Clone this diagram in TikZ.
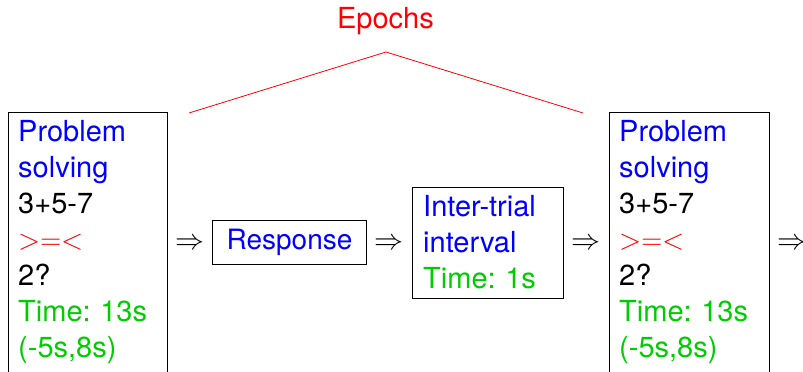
\RequirePackage{fix-cm}
\documentclass[tikz,border=0pt]{standalone}
\usepackage{fontspec}
\setmainfont{TeX Gyre Heros}
\definecolor{grn}{RGB}{0,205,0}
\frenchspacing
\begin{document}
\begin{tikzpicture}[x=1pt,y=-1pt,
  box/.style={draw, line width=0.8pt, inner sep=0pt, anchor=north west},
  txt/.style={anchor=base west, inner sep=0pt, align=left, text width=145pt, font=\fontsize{29}{36}\selectfont\frenchspacing},
  arr/.style={anchor=base, inner sep=0pt, font=\fontsize{29}{36}\selectfont},
  epline/.style={red, line width=0.8pt}]
\useasboundingbox (0,0) rectangle (803,372);
\clip (0,0) rectangle (803,372);
% title
\node[anchor=base, inner sep=0pt, text=red, font=\fontsize{29}{36}\selectfont] (ep) at (385.5,28.5) {Epochs};
\coordinate (eL) at (189,113);
\coordinate (apex) at (386,52);
\coordinate (eR) at (583,113);
\draw[epline] (eL) -- (apex) -- (eR);
% left problem box
\node[box, minimum width=159pt, minimum height=300pt] (ps1) at (8,112) {};
\node[txt] (ps1t) at (18,141.7) {\textcolor{blue}{Problem}\\\textcolor{blue}{solving}\\3+5-7\\\textcolor{red}{$>=<$}\\2?\\\textcolor{grn}{Time: 13s}\\\textcolor{grn}{(-5s,8s)}};
% arrows
\node[arr] (a1) at (190,249.5) {$\Rightarrow$};
\node[draw, line width=0.8pt, inner sep=0pt, minimum width=154pt, minimum height=44pt, text=blue, font=\fontsize{28}{36}\selectfont] (resp) at (289.5,242.2) {Response};
\node[arr] (a2) at (388.5,249.5) {$\Rightarrow$};
% inter-trial box
\node[box, minimum width=151.5pt, minimum height=111pt] (itb) at (411.7,187.3) {};
\node[txt, text width=135pt] (itbt) at (423,216) {\textcolor{blue}{Inter-trial}\\\textcolor{blue}{interval}\\\textcolor{grn}{Time: 1s}};
\node[arr] (a3) at (586,249.5) {$\Rightarrow$};
% right problem box
\node[box, minimum width=160pt, minimum height=300pt] (ps2) at (609,112) {};
\node[txt] (ps2t) at (619,141.7) {\textcolor{blue}{Problem}\\\textcolor{blue}{solving}\\3+5-7\\\textcolor{red}{$>=<$}\\2?\\\textcolor{grn}{Time: 13s}\\\textcolor{grn}{(-5s,8s)}};
\node[arr] (a4) at (792,249.5) {$\Rightarrow$};
\end{tikzpicture}
\end{document}
